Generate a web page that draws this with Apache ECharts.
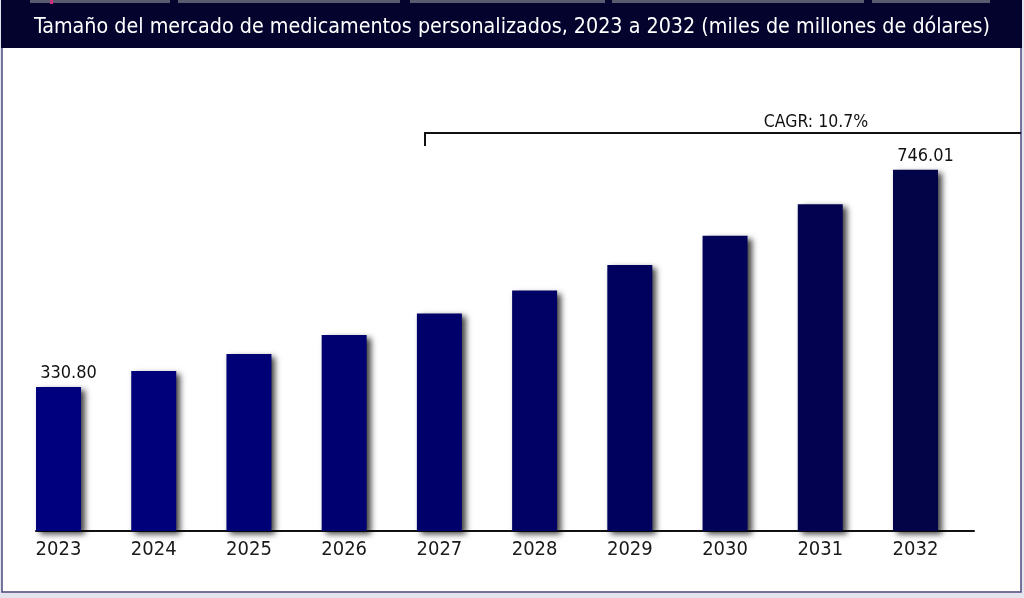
<!DOCTYPE html>
<html>
<head>
<meta charset="utf-8">
<script src="https://cdn.jsdelivr.net/npm/echarts@6/dist/echarts.min.js"></script>
<style>
html,body{margin:0;padding:0;background:#ffffff;}
#chart{width:1024px;height:598px;}
</style>
</head>
<body>
<div id="chart"></div>
<script>
const titleText = 'Tamaño del mercado de medicamentos personalizados, 2023 a 2032 (miles de millones de dólares)';
const years = ['2023','2024','2025','2026','2027','2028','2029','2030','2031','2032'];
const marketSize = [330.80, 361.4, 394.0, 430.3, 471.4, 515.0, 564.2, 619.7, 680.4, 746.01];
const labelledIndexes = [0, 9];
const cagrText = 'CAGR: 10.7%';

const barColors = ['#00007e','#00007a','#000076','#000071','#00006b','#000065','#00005f','#020259','#020251','#030348'];
const FONT = "'DejaVu Sans Condensed', 'DejaVu Sans', sans-serif";

const chart = echarts.init(document.getElementById('chart'), null, {renderer:'canvas'});

const option = {
  animation: false,
  backgroundColor: '#ffffff',
  title: {
    text: titleText,
    left: 'center',
    top: 12,
    textStyle: {color:'#ffffff', fontSize:21.3, fontWeight:'normal', fontFamily:FONT}
  },
  graphic: [
    {type:'rect', z:-10, shape:{x:0,y:0,width:1024,height:598}, style:{fill:'#e4e4ee'}},
    {type:'rect', z:-9, shape:{x:2,y:2,width:1019,height:590}, style:{fill:'#ffffff', stroke:'#4a4a7c', lineWidth:1.5}},
    {type:'rect', z:-8, shape:{x:1,y:0,width:1021,height:48}, style:{fill:'#03032e'}},
    {type:'rect', z:-7, shape:{x:30,y:0,width:140,height:3}, style:{fill:'#5a5a70'}},
    {type:'rect', z:-7, shape:{x:178,y:0,width:222,height:3}, style:{fill:'#5a5a70'}},
    {type:'rect', z:-7, shape:{x:410,y:0,width:195,height:3}, style:{fill:'#5a5a70'}},
    {type:'rect', z:-7, shape:{x:612,y:0,width:252,height:3}, style:{fill:'#5a5a70'}},
    {type:'rect', z:-7, shape:{x:872,y:0,width:118,height:3}, style:{fill:'#5a5a70'}},
    {type:'rect', z:-7, shape:{x:50,y:0,width:3,height:4}, style:{fill:'#d0307a'}},
    {type:'polyline', z:10, shape:{points:[[425,146],[425,133],[1021,133]]}, style:{stroke:'#111111', lineWidth:2, fill:null}},
    {type:'text', z:10, x:816, y:122, style:{text:cagrText, fill:'#111111', font:'17.5px ' + FONT, textAlign:'center', textVerticalAlign:'middle'}}
  ],
  grid: [
    {left:10.9, right:60.9, top:141.6, bottom:67},
    {left:36, right:50, top:141.6, bottom:67}
  ],
  xAxis: [
    {
      type:'category', data:years, gridIndex:0,
      axisLine:{show:false}, axisTick:{show:false},
      axisLabel:{color:'#1a1a1a', fontSize:20, fontFamily:FONT, margin:9}
    },
    {
      type:'value', gridIndex:1, min:0, max:1,
      axisLine:{show:true, lineStyle:{color:'#111111', width:2}},
      axisTick:{show:false}, axisLabel:{show:false}, splitLine:{show:false}
    }
  ],
  yAxis: [
    {type:'value', gridIndex:0, min:55.27, max:800, show:false, splitLine:{show:false}},
    {type:'value', gridIndex:1, min:0, max:1, show:false, splitLine:{show:false}}
  ],
  series: [{
    type:'bar',
    xAxisIndex:0, yAxisIndex:0,
    barWidth:45,
    data: marketSize.map((v,i)=>({
      value:v,
      itemStyle:{color:barColors[i]},
      label:{show: labelledIndexes.indexOf(i) >= 0}
    })),
    itemStyle:{shadowColor:'rgba(0,0,0,0.75)', shadowBlur:6, shadowOffsetX:4, shadowOffsetY:3},
    label:{
      position:'top', distance:5, offset:[10,0],
      color:'#111111', fontSize:18, fontFamily:FONT,
      formatter:(p)=>p.value.toFixed(2)
    }
  }]
};
chart.setOption(option);
</script>
</body>
</html>
